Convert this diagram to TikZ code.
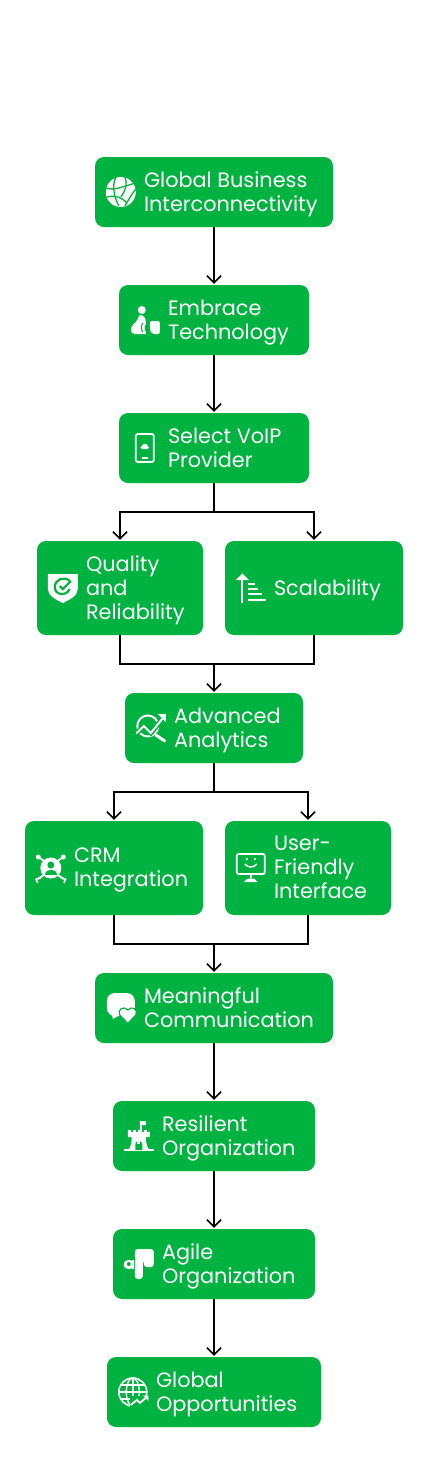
\documentclass[tikz,border=0pt]{standalone}
\usepackage{fontspec}
\setmainfont{Poppins}
\usetikzlibrary{positioning, arrows.meta}
\definecolor{boxgreen}{RGB}{0,178,64}

\tikzset{
    % --- Iconos ---
    globeicon/.pic={
        \fill[white] (0,0) circle (15);
        \draw[boxgreen, line width=1.3pt] (-15,-4) .. controls (-6,-1) and (3,-6) .. (15,-9);
        \draw[boxgreen, line width=1.3pt] (-14,5) .. controls (-6,3) and (1,5) .. (6,11);
        \draw[boxgreen, line width=1.3pt] (-5,-15) .. controls (-9,-6) and (-7,4) .. (-2,14);
        \draw[boxgreen, line width=1.3pt] (4,-15) .. controls (7,-8) and (5,-2) .. (0,5);
        \draw[boxgreen, line width=1.3pt] (15,-3) .. controls (10,3) and (8,8) .. (4,14);
    },
    embraceicon/.pic={
        \fill[white] (-3,-10) circle (4);
        \fill[white] (-5,-5) .. controls (-1,-5) and (1,-2) .. (1,2) -- (1,14) -- (-10,14)
            .. controls (-15,14) and (-15,7) .. (-11,4) .. controls (-8,2) and (-7,-2) .. (-5,-5) -- cycle;
        \fill[white, rounded corners=2pt] (5,1) -- (15,1) -- (15,14) -- (7,14) -- (5,10) -- cycle;
        \draw[boxgreen, line width=1pt] (-2,3) .. controls (-4,6) and (-4,9) .. (-2,12);
        \draw[boxgreen, line width=1pt] (1,5) .. controls (0,7) and (0,9) .. (1,11);
    },
    phoneicon/.pic={
        \draw[white, line width=1.7pt, rounded corners=2pt] (-9,-14) rectangle (9,14);
        \fill[white] (-3,1) -- (3,1) .. controls (5,1) and (4,-2) .. (3,-2)
            .. controls (2,-5) and (-2,-5) .. (-3,-2) .. controls (-5,-2) and (-5,1) .. (-3,1) -- cycle;
        \draw[white, line width=1.3pt] (-3,10) -- (3,10);
    },
    shieldicon/.pic={
        \fill[white] (-15,-14) .. controls (-5,-14) and (5,-14) .. (15,-14) -- (15,1)
            .. controls (15,8) and (6,12) .. (0,15) .. controls (-6,12) and (-15,8) .. (-15,1) -- cycle;
        \draw[boxgreen, line width=2.2pt] (7,-7) .. controls (2,-12) and (-8,-9) .. (-8,-1)
            .. controls (-8,7) and (3,9) .. (7,1);
        \draw[boxgreen, line width=2.2pt] (-3,-2) -- (0,1) -- (8,-7);
    },
    scaleicon/.pic={
        \draw[white, line width=2pt] (-8.5,-11) -- (-8.5,14.5);
        \fill[white] (-15,-8) -- (-8.5,-14.5) -- (-2,-8) -- cycle;
        \draw[white, line width=2pt] (-3,-4.5) -- (4,-4.5);
        \draw[white, line width=2pt] (-3,0.5) -- (7,0.5);
        \draw[white, line width=2pt] (-3,5.5) -- (11,5.5);
        \draw[white, line width=2pt] (-3,11.5) -- (15,11.5);
    },
    analyticsicon/.pic={
        \draw[white, line width=2pt] (-3,-2) circle (10.5);
        \draw[white, line width=3pt, line cap=round] (5,7) -- (14,13);
        \draw[boxgreen, line width=5pt] (-15,6) -- (-7,-2) -- (0,5) -- (14,-12);
        \draw[white, line width=2pt, line cap=round] (-14,5) -- (-7,-2) -- (0,5) -- (13,-11);
        \fill[white] (15,-14) -- (7,-14) -- (15,-6) -- cycle;
    },
    crmicon/.pic={
        \fill[white] (0,0) circle (10.5);
        \fill[boxgreen] (0,-3) circle (3.5);
        \fill[boxgreen] (-6,7) .. controls (-6,0) and (6,0) .. (6,7) -- cycle;
        \draw[white, line width=1.8pt] (-7,-7) -- (-12,-11) (7,-7) -- (12,-11);
        \draw[white, line width=1.8pt] (-7,7) -- (-13,11) (7,7) -- (13,11);
        \fill[white] (-12.5,-11) circle (2.5) (12.5,-11) circle (2.5);
        \draw[white, line width=1.5pt] (-15,11) -- (-10,10) (-15,11) -- (-13,15);
        \draw[white, line width=1.5pt] (15,11) -- (10,10) (15,11) -- (13,15);
    },
    screenicon/.pic={
        \draw[white, line width=1.7pt, rounded corners=2pt] (-14,-14) rectangle (14,6);
        \fill[white] (-4,-9) circle (1.3) (4,-9) circle (1.3);
        \draw[white, line width=1.5pt] (-6,-4) .. controls (-3,0) and (3,0) .. (6,-4);
        \draw[white, line width=1.8pt] (0,6) -- (0,10);
        \fill[white] (-7,14) .. controls (-4,9) and (4,9) .. (7,14) -- cycle;
    },
    chaticon/.pic={
        \fill[white, rounded corners=8pt] (-14,-15) rectangle (14,8);
        \fill[white] (-9,5) -- (-8,11) -- (1,6) -- cycle;
        \fill[white, draw=boxgreen, line width=1.2pt] (7,15.5) -- (-1,7)
            .. controls (-4,2) and (3,-3) .. (7,2) .. controls (11,-3) and (18,2) .. (15,7) -- cycle;
    },
    castleicon/.pic={
        \fill[white] (-15,13) -- (15,13) -- (15,15) -- (-15,15) -- cycle;
        \fill[white] (-11,14) .. controls (-8,12) and (-7,6) .. (-7,0) -- (7,0)
            .. controls (7,6) and (8,12) .. (11,14) -- cycle;
        \fill[white] (-11,-6) -- (-8,-6) -- (-8,-4) -- (-6,-4) -- (-6,-6) -- (-3,-6) -- (-3,-4)
            -- (-1,-4) -- (-1,-6) -- (3,-6) -- (3,-4) -- (5,-4) -- (5,-6) -- (8,-6) -- (8,-4)
            -- (11,-4) -- (11,-6) -- (11,1) -- (-11,1) -- cycle;
        \fill[white] (1,-15) -- (7,-15) -- (7,-11) -- (3,-11) -- (3,-6) -- (1,-6) -- cycle;
        \fill[boxgreen] (-3.5,14) -- (-3.5,8) .. controls (-3.5,4) and (3.5,4) .. (3.5,8) -- (3.5,14) -- cycle;
        \fill[white] (-1.5,5) rectangle (1.5,8);
    },
    agileicon/.pic={
        \fill[white, rounded corners=3pt] (-4,-15) -- (15,-15) -- (15,3) -- (5,3) -- (5,-4) -- (-4,-4) -- cycle;
        \fill[white, rounded corners=3pt] (-4,-6) rectangle (4,15);
        \fill[white, rounded corners=4pt] (-15,-4) rectangle (-5,5);
        \fill[white] (-7,-4) rectangle (-5,5);
        \fill[boxgreen] (-10,0) circle (2);
    },
    worldicon/.pic={
        \draw[white, line width=1.6pt] (0,0) circle (14);
        \draw[white, line width=1.4pt] (0,0) ellipse (6.5 and 14);
        \draw[white, line width=1.4pt] (0,-14) -- (0,14) (-14,0) -- (14,0);
        \draw[white, line width=1.4pt] (-12,-7) -- (12,-7) (-12,7) -- (12,7);
        \fill[boxgreen] (-3,4) rectangle (16,16);
        \draw[white, line width=1.8pt] (-2,13) -- (4,8) -- (7,11) -- (14,5);
        \fill[white] (15.5,3.5) -- (10,3.5) -- (15.5,9) -- cycle;
    }
}

\begin{document}
\begin{tikzpicture}[
    x=1pt, y=-1pt,
    flowbox/.style={
        rectangle, fill=boxgreen, rounded corners=9pt,
        inner sep=0pt, minimum height=70pt
    },
    tallbox/.style={flowbox, minimum height=94pt},
    boxtext/.style={
        text=white, inner sep=0pt, align=left, yshift=-3pt,
        font=\fontsize{20.8}{24}\selectfont,
        execute at begin node=\strut, execute at end node=\strut
    },
    flow/.style={draw, line width=1.6pt},
    flowarrow/.style={flow, -{Straight Barb[length=7pt, width=14pt]}, shorten >=1pt}
]
\useasboundingbox (0,0) rectangle (428,1476);

% --- Cajas ---
\node[flowbox, minimum width=238pt] (globalBox) at (214,192) {};
\node[flowbox, minimum width=190pt] (embraceBox) at (214,320) {};
\node[flowbox, minimum width=190pt] (selectBox) at (214,448) {};
\node[tallbox, minimum width=166pt] (qualityBox) at (120,588) {};
\node[tallbox, minimum width=178pt] (scaleBox) at (314,588) {};
\node[flowbox, minimum width=178pt] (analyticsBox) at (214,728) {};
\node[tallbox, minimum width=178pt] (crmBox) at (114,868) {};
\node[tallbox, minimum width=166pt] (userBox) at (308,868) {};
\node[flowbox, minimum width=238pt] (meaningBox) at (214,1008) {};
\node[flowbox, minimum width=202pt] (resilientBox) at (214,1136) {};
\node[flowbox, minimum width=202pt] (agileBox) at (214,1264) {};
\node[flowbox, minimum width=214pt] (worldBox) at (214,1392) {};

% --- Textos ---
\node[boxtext, right=49pt of globalBox.west] (globalText) {Global Business\\Interconnectivity};
\node[boxtext, right=49pt of embraceBox.west] (embraceText) {Embrace\\Technology};
\node[boxtext, right=49pt of selectBox.west] (selectText) {Select VoIP\\Provider};
\node[boxtext, right=49pt of qualityBox.west] (qualityText) {Quality\\and\\Reliability};
\node[boxtext, right=49pt of scaleBox.west] (scaleText) {Scalability};
\node[boxtext, right=49pt of analyticsBox.west] (analyticsText) {Advanced\\Analytics};
\node[boxtext, right=49pt of crmBox.west] (crmText) {CRM\\Integration};
\node[boxtext, right=49pt of userBox.west] (userText) {User-\\Friendly\\Interface};
\node[boxtext, right=49pt of meaningBox.west] (meaningText) {Meaningful\\Communication};
\node[boxtext, right=49pt of resilientBox.west] (resilientText) {Resilient\\Organization};
\node[boxtext, right=49pt of agileBox.west] (agileText) {Agile\\Organization};
\node[boxtext, right=49pt of worldBox.west] (worldText) {Global\\Opportunities};

% --- Iconos ---
\pic at ([xshift=26pt]globalBox.west) {globeicon};
\pic at ([xshift=26pt]embraceBox.west) {embraceicon};
\pic at ([xshift=26pt]selectBox.west) {phoneicon};
\pic at ([xshift=26pt]qualityBox.west) {shieldicon};
\pic at ([xshift=26pt]scaleBox.west) {scaleicon};
\pic at ([xshift=26pt]analyticsBox.west) {analyticsicon};
\pic at ([xshift=26pt]crmBox.west) {crmicon};
\pic at ([xshift=26pt]userBox.west) {screenicon};
\pic at ([xshift=26pt]meaningBox.west) {chaticon};
\pic at ([xshift=26pt]resilientBox.west) {castleicon};
\pic at ([xshift=26pt]agileBox.west) {agileicon};
\pic at ([xshift=26pt]worldBox.west) {worldicon};

% --- Puntos de union ---
\coordinate (splitOne) at (214,512);
\coordinate (mergeOne) at (214,664);
\coordinate (splitTwo) at (214,792);
\coordinate (mergeTwo) at (214,944);

% --- Conectores ---
\draw[flowarrow] (globalBox) -- (embraceBox);
\draw[flowarrow] (embraceBox) -- (selectBox);
\draw[flow] (selectBox) -- (splitOne);
\draw[flowarrow] (splitOne) -| (qualityBox);
\draw[flowarrow] (splitOne) -| (scaleBox);
\draw[flow] (qualityBox) |- (mergeOne);
\draw[flow] (scaleBox) |- (mergeOne);
\draw[flowarrow] (mergeOne) -- (analyticsBox);
\draw[flow] (analyticsBox) -- (splitTwo);
\draw[flowarrow] (splitTwo) -| (crmBox);
\draw[flowarrow] (splitTwo) -| (userBox);
\draw[flow] (crmBox) |- (mergeTwo);
\draw[flow] (userBox) |- (mergeTwo);
\draw[flowarrow] (mergeTwo) -- (meaningBox);
\draw[flowarrow] (meaningBox) -- (resilientBox);
\draw[flowarrow] (resilientBox) -- (agileBox);
\draw[flowarrow] (agileBox) -- (worldBox);

\end{tikzpicture}
\end{document}
